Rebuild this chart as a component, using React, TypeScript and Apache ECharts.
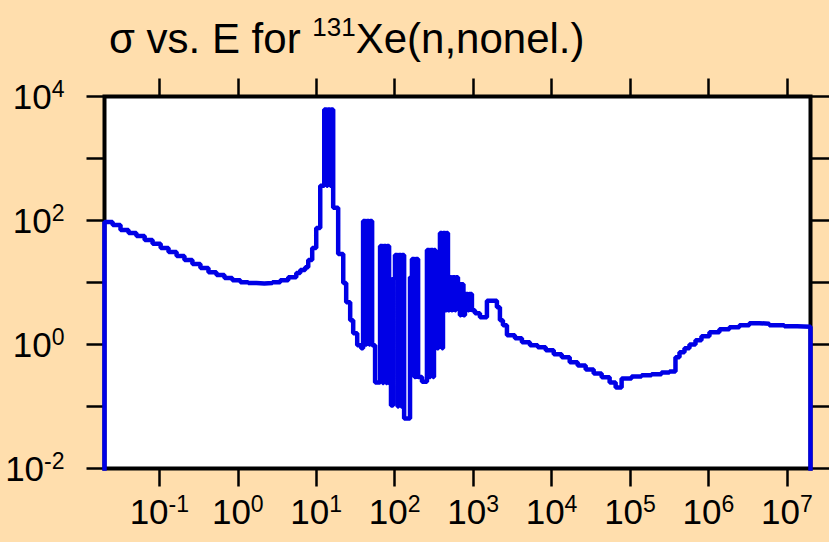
import React, { useEffect, useRef } from "react";
import * as echarts from "echarts";

// Energy (eV) – left edge of each histogram step
const energy: number[] = [
  0.02, 0.02, 0.0254, 0.032, 0.0405, 0.051, 0.065, 0.082, 0.104, 0.131, 0.166,
  0.209, 0.264, 0.334, 0.423, 0.535, 0.676, 0.853, 1.08, 1.36, 1.73, 2.18, 2.76,
  3.48, 4.4, 5.57, 6.26, 7.24, 7.91, 8.89, 10.0, 11.25, 12.65, 13.6, 14.0, 15.07,
  15.5, 16.45, 19.05, 22.1, 24.1, 27.1, 29.6, 33.3, 37.4, 39.6, 42.6, 43.9, 47.2,
  48.6, 51.6, 56.3, 65.2, 70.2, 72.3, 77.8, 80.0, 84.9, 89.8, 95.4, 101, 109, 112,
  121, 124, 132, 157, 166, 179, 185, 199, 223, 258, 278, 286, 308, 317, 331, 346,
  361, 378, 401, 413, 444, 458, 478, 500, 530, 546, 587, 604, 641, 679, 700, 753,
  787, 859, 885, 966, 1056, 1222, 1500, 2011, 2197, 2400, 2700, 3410, 4190, 5300,
  6670, 8430, 10660, 13480, 17040, 21530, 27220, 34420, 43520, 55000, 65600,
  78200, 104700, 140400, 188000, 251800, 318400, 380000, 427600, 495000, 573000,
  684000, 815000, 1.03e6, 1.38e6, 1.85e6, 2.48e6, 3.32e6, 4.45e6, 5.96e6, 9.25e6,
  1.35e7, 2e7,
];

// Cross section (barns) for each step
const sigma: number[] = [
  0.001, 95, 85, 70, 63, 56, 48.5, 42, 36, 31, 26.7,
  23, 19.9, 17.1, 14.7, 13.2, 11.8, 10.9, 10.1, 9.8, 9.6, 9.8, 10.1,
  10.9, 12.2, 14.2, 15.9, 17.7, 23, 36, 76, 363, 6170, 363, 6170, 363,
  6170, 160, 28.8, 9.8, 4.8, 2.47, 1.52, 0.97, 0.87, 98, 1.0, 98, 1.0,
  98, 0.97, 0.244, 38.8, 0.24, 38.8, 0.24, 38.8, 0.235, 0.104, 11.8, 27.7, 0.1, 27.7,
  0.1, 27.7, 0.064, 12.2, 23.9, 0.3, 23.9, 0.3, 0.25, 33.4, 0.3, 33.4, 0.3, 33.4, 8.0, 0.87,
  8.0, 63, 0.87, 63, 3.57, 63, 3.57, 12.2, 3.57, 12.2, 3.57, 12.2, 9.4, 2.97, 9.4, 2.97,
  6.5, 3.57, 6.5, 3.57, 3.2, 2.76, 5.06, 4.0, 2.47, 2.05, 1.41, 1.26, 1.09, 0.97,
  0.9, 0.806, 0.693, 0.621, 0.515, 0.46, 0.397, 0.342, 0.295, 0.244, 0.203,
  0.284, 0.305, 0.318, 0.33, 0.355, 0.368, 0.621, 0.748, 0.869, 1.0,
  1.17, 1.36, 1.58, 1.76, 1.9, 2.05, 2.2, 2.17, 2.05, 1.97,
  1.94, 0.001,
];

const xMin = 0.02;
const xMax = 2e7;
const yMin = 0.01;
const yMax = 1e4;
const xTickExponents: number[] = [-1, 0, 1, 2, 3, 4, 5, 6, 7];

const FONT = "'Liberation Sans', Arial, sans-serif";

const labelRich = {
  b: { fontSize: 35, fontFamily: FONT, color: "#000", lineHeight: 38 },
  s: { fontSize: 23, fontFamily: FONT, color: "#000", lineHeight: 23, verticalAlign: "top" },
};

export default function App() {
  const ref = useRef<HTMLDivElement>(null);
  useEffect(() => {
    if (!ref.current) return;
    const chart = echarts.init(ref.current, undefined, { renderer: "svg" });
    const data = energy.map((e, i) => [e, sigma[i]]);
    const lx0 = Math.log10(xMin);
    const lx1 = Math.log10(xMax);
    const tickStyle = { color: "#000", width: 2.5 };
    chart.setOption({
      animation: false,
      backgroundColor: "#FFDEAD",
      title: {
        text: "{a|σ vs. E for }{s|131}{a|Xe(n,nonel.)}",
        left: 104,
        top: 9,
        textStyle: {
          rich: {
            a: { fontSize: 42, fontFamily: FONT, fontWeight: "normal", color: "#000", lineHeight: 48 },
            s: { fontSize: 26, fontFamily: FONT, fontWeight: "normal", color: "#000", lineHeight: 26, verticalAlign: "top" },
          },
        },
      },
      grid: {
        left: 104.5,
        top: 96.5,
        width: 706,
        height: 372,
        show: true,
        backgroundColor: "#fff",
        borderColor: "#000",
        borderWidth: 4,
        containLabel: false,
      },
      xAxis: [
        { type: "log", min: xMin, max: xMax, logBase: 10, show: false },
        {
          type: "value",
          min: lx0,
          max: lx1,
          position: "bottom",
          axisLine: { show: false, onZero: false },
          splitLine: { show: false },
          axisTick: { show: true, inside: false, length: 18, customValues: xTickExponents, lineStyle: tickStyle },
          axisLabel: {
            customValues: xTickExponents,
            margin: 24,
            formatter: (v: number) => `{b|10}{s|${Math.round(v)}}`,
            rich: labelRich,
          },
        },
        {
          type: "value",
          min: lx0,
          max: lx1,
          position: "top",
          axisLine: { show: false, onZero: false },
          splitLine: { show: false },
          axisTick: { show: true, inside: false, length: 18, customValues: xTickExponents, lineStyle: tickStyle },
          axisLabel: { show: false },
        },
      ],
      yAxis: [
        {
          type: "log",
          min: yMin,
          max: yMax,
          logBase: 10,
          position: "left",
          axisLine: { show: false, onZero: false },
          splitLine: { show: false },
          axisTick: { show: true, inside: false, length: 18, lineStyle: tickStyle },
          axisLabel: {
            margin: 40,
            formatter: (v: number) => {
              const e = Math.round(Math.log10(v));
              return e % 2 === 0 ? `{b|10}{s|${e}}` : "";
            },
            rich: labelRich,
          },
        },
        {
          type: "log",
          min: yMin,
          max: yMax,
          logBase: 10,
          position: "right",
          axisLine: { show: false, onZero: false },
          splitLine: { show: false },
          axisTick: { show: true, inside: false, length: 20, lineStyle: tickStyle },
          axisLabel: { show: false },
        },
      ],
      series: [
        {
          type: "line",
          xAxisIndex: 0,
          yAxisIndex: 0,
          step: "end",
          data,
          showSymbol: false,
          symbol: "none",
          clip: true,
          lineStyle: { color: "#0000E6", width: 4.5 },
          z: 5,
        },
      ],
    });
    return () => chart.dispose();
  }, []);
  return (
    <div
      ref={ref}
      style={{ position: "fixed", left: 0, top: 0, width: 829, height: 542 }}
    />
  );
}
